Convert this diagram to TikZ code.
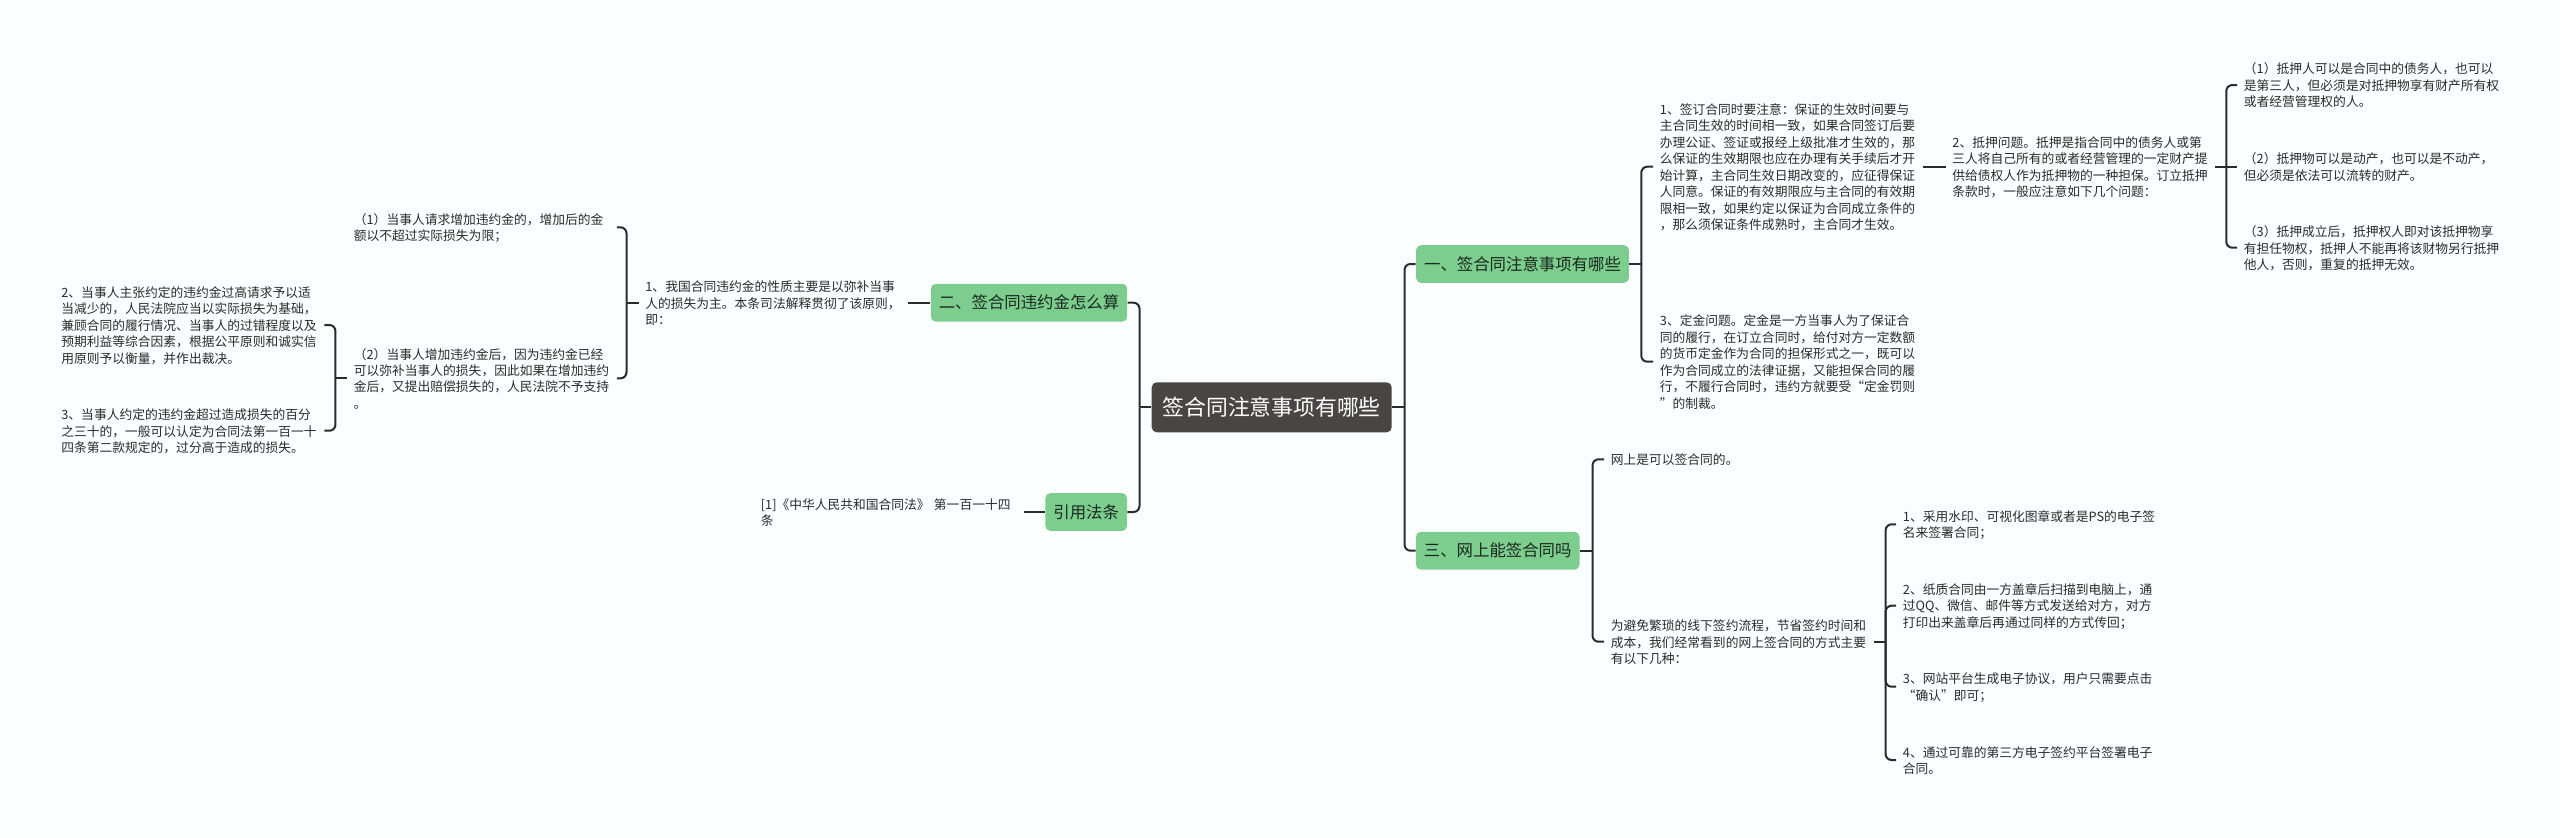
\documentclass[tikz,border=0pt]{standalone}
\usepackage{fontspec}
\setmainfont{Noto Sans CJK SC}
\definecolor{pagebg}{HTML}{FBFEFF}
\definecolor{rootfill}{HTML}{4A4545}
\definecolor{branchfill}{HTML}{7DCD8F}
\definecolor{branchtext}{HTML}{18291D}
\definecolor{bodytext}{HTML}{2A2A2A}
\definecolor{linecol}{HTML}{2B2B2B}
\tikzset{
  rootbox/.style={fill=rootfill,text=white,rounded corners=2.5pt,inner xsep=5.5pt,inner ysep=0pt,minimum height=25pt,font=\fontsize{10.9pt}{13pt}\selectfont},
  branchbox/.style={fill=branchfill,text=branchtext,rounded corners=2.5pt,inner xsep=4pt,inner ysep=0pt,minimum height=18.9pt,font=\fontsize{8.2pt}{10pt}\selectfont},
  leafbox/.style={inner xsep=3.25pt,inner ysep=0pt,text width=128pt,align=left,text=bodytext,
    font=\fontsize{6.38pt}{8.235pt}\selectfont,
    execute at begin node={\rule{0pt}{6.3pt}},
    execute at end node={\rule[-0.9pt]{0pt}{0.9pt}}},
  stem/.style={draw=linecol,line width=1pt},
  twig/.style={draw=linecol,line width=1pt,rounded corners=3pt},
}
\begin{document}
\begin{tikzpicture}[x=0.5pt,y=-0.5pt]
\path[use as bounding box,fill=pagebg] (0,0) rectangle (2560,837);

\node[rootbox] (root) at (1271.7,407.3) {签合同注意事项有哪些};

\node[branchbox] (b1) at (1522.5,264) {一、签合同注意事项有哪些};
\node[branchbox] (b3) at (1497.7,550.7) {三、网上能签合同吗};
\node[branchbox] (b2) at (1029,302.7) {二、签合同违约金怎么算};
\node[branchbox] (b4) at (1086.2,512) {引用法条};

% left side
\node[leafbox,anchor=west] (l1) at (638.5,302.7) {1、我国合同违约金的性质主要是以弥补当事\\人的损失为主。本条司法解释贯彻了该原则，\\即：};
\node[leafbox,anchor=west] (l11) at (347,227.3) {（1）当事人请求增加违约金的，增加后的金\\额以不超过实际损失为限；};
\node[leafbox,anchor=west] (l12) at (347,378.3) {（2）当事人增加违约金后，因为违约金已经\\可以弥补当事人的损失，因此如果在增加违约\\金后，又提出赔偿损失的，人民法院不予支持\\。};
\node[leafbox,anchor=west] (l121) at (54.5,325) {2、当事人主张约定的违约金过高请求予以适\\当减少的，人民法院应当以实际损失为基础，\\兼顾合同的履行情况、当事人的过错程度以及\\预期利益等综合因素，根据公平原则和诚实信\\用原则予以衡量，并作出裁决。};
\node[leafbox,anchor=west] (l122) at (54.5,430.7) {3、当事人约定的违约金超过造成损失的百分\\之三十的，一般可以认定为合同法第一百一十\\四条第二款规定的，过分高于造成的损失。};
\node[leafbox,anchor=west] (law) at (754,512) {[1]《中华人民共和国合同法》 第一百一十四\\条};

% right side, branch one
\node[leafbox,anchor=west] (r1) at (1653,166.7) {1、签订合同时要注意：保证的生效时间要与\\主合同生效的时间相一致，如果合同签订后要\\办理公证、签证或报经上级批准才生效的，那\\么保证的生效期限也应在办理有关手续后才开\\始计算，主合同生效日期改变的，应征得保证\\人同意。保证的有效期限应与主合同的有效期\\限相一致，如果约定以保证为合同成立条件的\\，那么须保证条件成熟时，主合同才生效。};
\node[leafbox,anchor=west] (r3) at (1653,361.7) {3、定金问题。定金是一方当事人为了保证合\\同的履行，在订立合同时，给付对方一定数额\\的货币定金作为合同的担保形式之一，既可以\\作为合同成立的法律证据，又能担保合同的履\\行，不履行合同时，违约方就要受“定金罚则\\”的制裁。};
\node[leafbox,anchor=west] (r2) at (1945.5,166.7) {2、抵押问题。抵押是指合同中的债务人或第\\三人将自己所有的或者经营管理的一定财产提\\供给债权人作为抵押物的一种担保。订立抵押\\条款时，一般应注意如下几个问题：};
\node[leafbox,anchor=west] (r21) at (2237,85) {（1）抵押人可以是合同中的债务人，也可以\\是第三人，但必须是对抵押物享有财产所有权\\或者经营管理权的人。};
\node[leafbox,anchor=west] (r22) at (2237,166.7) {（2）抵押物可以是动产，也可以是不动产，\\但必须是依法可以流转的财产。};
\node[leafbox,anchor=west] (r23) at (2237,247.7) {（3）抵押成立后，抵押权人即对该抵押物享\\有担任物权，抵押人不能再将该财物另行抵押\\他人，否则，重复的抵押无效。};

% right side, branch three
\node[leafbox,anchor=west] (w1) at (1604,459.3) {网上是可以签合同的。};
\node[leafbox,anchor=west] (w2) at (1604,641.7) {为避免繁琐的线下签约流程，节省签约时间和\\成本，我们经常看到的网上签合同的方式主要\\有以下几种：};
\node[leafbox,anchor=west] (w21) at (1896,524.3) {1、采用水印、可视化图章或者是PS的电子签\\名来签署合同；};
\node[leafbox,anchor=west] (w22) at (1896,605.7) {2、纸质合同由一方盖章后扫描到电脑上，通\\过QQ、微信、邮件等方式发送给对方，对方\\打印出来盖章后再通过同样的方式传回；};
\node[leafbox,anchor=west] (w23) at (1896,686.7) {3、网站平台生成电子协议，用户只需要点击\\“确认”即可；};
\node[leafbox,anchor=west] (w24) at (1896,760) {4、通过可靠的第三方电子签约平台签署电子\\合同。};

% junctions
\coordinate (jrootR) at ([xshift=6.2pt]root.east);
\coordinate (jrootL) at ([xshift=-5.9pt]root.west);
\coordinate (jb1) at ([xshift=6pt]b1.east);
\coordinate (jb3) at ([xshift=6.3pt]b3.east);
\coordinate (jl1) at ([xshift=-6pt]l1.west);
\coordinate (jl12) at ([xshift=-5.8pt]l12.west);
\coordinate (jr2) at ([xshift=5.5pt]r2.east);
\coordinate (jw2) at ([xshift=5.9pt]w2.east);

% stems
\draw[stem] (root.east) -- (jrootR);
\draw[stem] (root.west) -- (jrootL);
\draw[stem] (b1.east) -- (jb1);
\draw[stem] (b3.east) -- (jb3);
\draw[stem] (l1.west) -- (jl1);
\draw[stem] (l12.west) -- (jl12);
\draw[stem] (r2.east) -- (jr2);
\draw[stem] (w2.east) -- (jw2);
\draw[stem] (b2.west) -- (l1.east);
\draw[stem] (b4.west) -- (law.east);
\draw[stem] (r1.east) -- (r2.west);
\draw[stem] (jr2) -- (r22.west);

% curved branches
\foreach \c in {b1,b3} \draw[twig] (jrootR) |- (\c.west);
\foreach \c in {b2,b4} \draw[twig] (jrootL) |- (\c.east);
\foreach \c in {r1,r3} \draw[twig] (jb1) |- (\c.west);
\foreach \c in {w1,w2} \draw[twig] (jb3) |- (\c.west);
\foreach \c in {l11,l12} \draw[twig] (jl1) |- (\c.east);
\foreach \c in {l121,l122} \draw[twig] (jl12) |- (\c.east);
\foreach \c in {r21,r23} \draw[twig] (jr2) |- (\c.west);
\foreach \c in {w21,w22,w23,w24} \draw[twig] (jw2) |- (\c.west);
\end{tikzpicture}
\end{document}
